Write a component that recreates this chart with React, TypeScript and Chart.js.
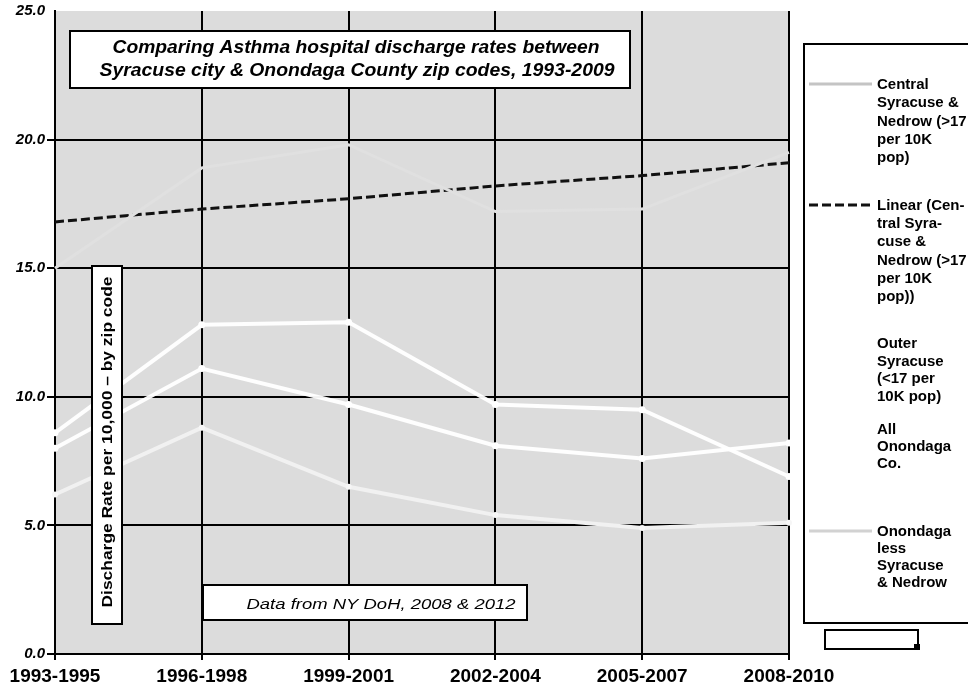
import React, { useEffect, useRef } from 'react';
import { Chart, registerables } from 'chart.js';

Chart.register(...registerables);

// ---- data ----
const categories = ['1993-1995', '1996-1998', '1999-2001', '2002-2004', '2005-2007', '2008-2010'];
const centralSyracuse = [15.0, 18.9, 19.8, 17.2, 17.3, 19.5];
const centralTrend = [16.8, 17.3, 17.7, 18.2, 18.6, 19.1];
const outerSyracuse = [8.6, 12.8, 12.9, 9.7, 9.5, 6.9];
const allOnondaga = [8.0, 11.1, 9.7, 8.1, 7.6, 8.2];
const onondagaLess = [6.2, 8.8, 6.5, 5.4, 4.9, 5.1];
const yTicks = [0, 5, 10, 15, 20, 25];

const seriesLabels = [
  'Central Syracuse & Nedrow (>17 per 10K pop)',
  'Linear (Central Syracuse & Nedrow (>17 per 10K pop))',
  'Outer Syracuse (<17 per 10K pop)',
  'All Onondaga Co.',
  'Onondaga less Syracuse & Nedrow',
];
const legendLines = [
  ['Central', 'Syracuse &', 'Nedrow (>17', 'per 10K', 'pop)'],
  ['Linear (Cen-', 'tral Syra-', 'cuse &', 'Nedrow (>17', 'per 10K', 'pop))'],
  ['Outer', 'Syracuse', '(<17 per', '10K pop)'],
  ['All', 'Onondaga', 'Co.'],
  ['Onondaga', 'less', 'Syracuse', '& Nedrow'],
];
const titleLines = [
  'Comparing Asthma hospital discharge rates between',
  'Syracuse city & Onondaga County zip codes, 1993-2009',
];
const yAxisTitle = 'Discharge Rate per 10,000 \u2013 by zip code';
const sourceNote = 'Data from NY DoH, 2008 & 2012';

// ---- styling ----
const PLOT_BG = '#dcdcdc';
const FONT = 'Arial, "Liberation Sans", sans-serif';

function box(ctx: CanvasRenderingContext2D, x: number, y: number, w: number, h: number, lw = 2) {
  ctx.save();
  ctx.fillStyle = '#fff';
  ctx.fillRect(x, y, w, h);
  ctx.strokeStyle = '#000';
  ctx.lineWidth = lw;
  ctx.strokeRect(x, y, w, h);
  ctx.restore();
}

function fitText(ctx: CanvasRenderingContext2D, text: string, cx: number, baseline: number, width: number, font: string) {
  ctx.save();
  ctx.font = font;
  const w = ctx.measureText(text).width;
  const s = width / w;
  ctx.translate(cx, baseline);
  ctx.scale(s, 1);
  ctx.fillStyle = '#000';
  ctx.textAlign = 'center';
  ctx.textBaseline = 'alphabetic';
  ctx.fillText(text, 0, 0);
  ctx.restore();
}

const bgPlugin = {
  id: 'plotBg',
  beforeDraw(chart: any) {
    const { ctx, chartArea } = chart;
    ctx.save();
    ctx.fillStyle = '#fff';
    ctx.fillRect(0, 0, chart.width, chart.height);
    ctx.fillStyle = PLOT_BG;
    ctx.fillRect(chartArea.left, chartArea.top, chartArea.right - chartArea.left, chartArea.bottom - chartArea.top);
    ctx.restore();
  },
};

const legendFirstY = [84, 205, 343, 429, 531];
const legendStep = [18.3, 18.2, 17.5, 17, 17];

const overlayPlugin = {
  id: 'overlay',
  afterDraw(chart: any) {
    const ctx: CanvasRenderingContext2D = chart.ctx;

    // title box
    box(ctx, 70, 31, 560, 57);
    fitText(ctx, titleLines[0], 356, 53, 487, `italic bold 18px ${FONT}`);
    fitText(ctx, titleLines[1], 357, 76, 515, `italic bold 18px ${FONT}`);

    // y-axis title box
    box(ctx, 92, 266, 30, 358);
    ctx.save();
    ctx.translate(112, 442);
    ctx.rotate(-Math.PI / 2);
    fitText(ctx, yAxisTitle, 0, 0, 331, `bold 15px ${FONT}`);
    ctx.restore();

    // source note box
    box(ctx, 203, 585, 324, 35);
    fitText(ctx, sourceNote, 381, 609, 269, `italic 15px ${FONT}`);

    // legend
    box(ctx, 804, 44, 200, 579);
    const ds = chart.data.datasets;
    ctx.save();
    ctx.font = `bold 15px ${FONT}`;
    ctx.fillStyle = '#000';
    ctx.textAlign = 'left';
    ctx.textBaseline = 'alphabetic';
    for (let i = 0; i < ds.length; i++) {
      const d = ds[i];
      const y0 = legendFirstY[i];
      ctx.save();
      ctx.strokeStyle = d.legendColor || d.borderColor;
      ctx.lineWidth = 3;
      ctx.setLineDash(d.borderDash || []);
      ctx.beginPath();
      ctx.moveTo(809, y0);
      ctx.lineTo(872, y0);
      ctx.stroke();
      ctx.restore();
      const lines = legendLines[i];
      for (let j = 0; j < lines.length; j++) {
        ctx.fillText(lines[j], 877, y0 + 5 + j * legendStep[i]);
      }
    }
    ctx.restore();

    // small box under legend
    box(ctx, 825, 630, 93, 19);
    ctx.save();
    ctx.fillStyle = '#000';
    ctx.fillRect(914, 644, 6, 6);
    ctx.restore();
  },
};

export default function App() {
  const ref = useRef<HTMLCanvasElement>(null);

  useEffect(() => {
    const canvas = ref.current!;
    const chart = new Chart(canvas, {
      type: 'line',
      data: {
        labels: categories,
        datasets: [
          {
            label: seriesLabels[0],
            data: centralSyracuse,
            borderColor: '#e0e0e0',
            legendColor: '#c4c4c4',
            borderWidth: 3,
            pointRadius: 0,
            tension: 0,
          } as any,
          {
            label: seriesLabels[1],
            data: centralTrend,
            borderColor: '#111',
            borderWidth: 3,
            borderDash: [9, 4],
            pointRadius: 0,
            tension: 0,
          },
          {
            label: seriesLabels[2],
            data: outerSyracuse,
            borderColor: 'rgba(255,255,255,0.95)',
            borderWidth: 4,
            pointRadius: 3.5,
            pointBackgroundColor: '#fff',
            pointBorderWidth: 0,
            tension: 0,
          },
          {
            label: seriesLabels[3],
            data: allOnondaga,
            borderColor: 'rgba(255,255,255,0.95)',
            borderWidth: 4,
            pointRadius: 3.5,
            pointBackgroundColor: '#fff',
            pointBorderWidth: 0,
            tension: 0,
          },
          {
            label: seriesLabels[4],
            data: onondagaLess,
            borderColor: '#f1f1f1',
            legendColor: '#d2d2d2',
            borderWidth: 4,
            pointRadius: 3,
            pointBackgroundColor: '#f6f6f6',
            pointBorderWidth: 0,
            tension: 0,
          } as any,
        ],
      },
      options: {
        responsive: false,
        animation: false,
        layout: { padding: { top: 7, right: 179, left: 0, bottom: 0 } },
        plugins: {
          legend: { display: false },
          tooltip: { enabled: false },
          title: { display: false },
        },
        scales: {
          x: {
            offset: false,
            grid: { color: '#000', lineWidth: 2, tickLength: 6, drawTicks: true },
            border: { color: '#000', width: 2 },
            ticks: {
              color: '#000',
              font: { family: FONT, size: 19, weight: 'bold' },
              padding: 5,
              maxRotation: 0,
              autoSkip: false,
            },
            afterFit: (a: any) => {
              a.height = 32;
            },
          },
          y: {
            min: 0,
            max: 25,
            afterBuildTicks: (a: any) => {
              a.ticks = yTicks.map((v) => ({ value: v }));
            },
            grid: {
              color: (c: any) => (c.tick && c.tick.value === 25 ? 'rgba(0,0,0,0)' : '#000'),
              lineWidth: 2,
              tickLength: 8,
            },
            border: { color: '#000', width: 2 },
            ticks: {
              color: '#000',
              font: { family: FONT, size: 15, weight: 'bold', style: 'italic' },
              padding: 2,
              callback: (v: any) => Number(v).toFixed(1),
            },
            afterFit: (a: any) => {
              a.width = 55;
            },
          },
        },
      } as any,
      plugins: [bgPlugin, overlayPlugin],
    });
    return () => chart.destroy();
  }, []);

  return (
    <canvas
      ref={ref}
      width={968}
      height={686}
      style={{ position: 'fixed', left: 0, top: 0, width: 968, height: 686 }}
    />
  );
}
